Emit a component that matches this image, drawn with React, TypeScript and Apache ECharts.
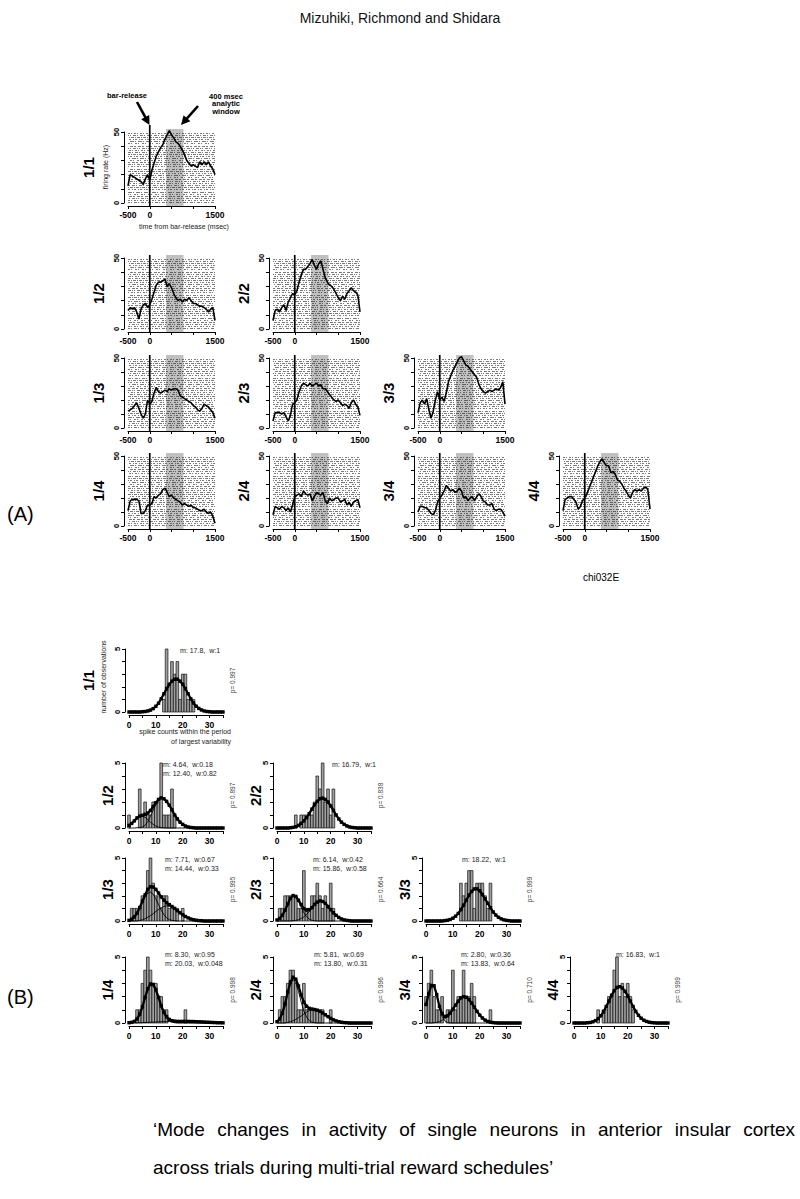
import React, { useEffect, useRef } from 'react';
import * as echarts from 'echarts';

const FONT = '"Liberation Sans", Arial, Helvetica, sans-serif';

// ---------- DATA ----------
// (A) time from bar-release (ms), one sample every 50 ms
const TIME = [-500, -450, -400, -350, -300, -250, -200, -150, -100, -50, 0, 50, 100, 150, 200, 250, 300, 350, 400, 450, 500, 550, 600, 650, 700, 750, 800, 850, 900, 950, 1000, 1050, 1100, 1150, 1200, 1250, 1300, 1350, 1400, 1450, 1500];
const WINDOW_MS = [375, 775];
const A_X_TICK_LABELS = [-500, 0, 1500];
const A_Y_TICK_LABELS = [0, 50];

// firing rate (Hz)
const RATE_1_1 = [12, 20, 19, 18, 17, 16, 15, 13, 17, 20, 16, 23, 28, 33, 36, 39, 41, 45, 48, 51, 48, 46, 43, 42, 40, 37, 34, 30, 28, 26, 27, 26, 25, 29, 27, 29, 27, 29, 26, 24, 20];
const RATE_1_2 = [13, 15, 14, 15, 12, 7, 14, 17, 18, 15, 17, 21, 26, 31, 33, 33, 34, 35, 30, 32, 29, 25, 22, 20, 21, 19, 21, 20, 22, 20, 18, 18, 17, 16, 16, 15, 14, 12, 14, 15, 6];
const RATE_2_2 = [6, 13, 14, 12, 15, 17, 13, 19, 22, 25, 24, 27, 33, 38, 42, 42, 44, 46, 49, 45, 42, 46, 48, 42, 36, 33, 31, 30, 28, 25, 22, 20, 23, 21, 25, 27, 29, 27, 26, 24, 12];
const RATE_1_3 = [12, 13, 14, 16, 18, 14, 10, 7, 10, 20, 17, 19, 25, 29, 26, 25, 26, 27, 26, 28, 27, 28, 28, 27, 23, 22, 21, 20, 19, 18, 16, 15, 13, 12, 14, 17, 16, 15, 13, 11, 7];
const RATE_2_3 = [5, 11, 11, 11, 10, 11, 8, 5, 9, 17, 18, 20, 26, 30, 32, 31, 30, 32, 30, 31, 32, 30, 31, 28, 28, 26, 24, 22, 20, 19, 20, 18, 16, 17, 16, 14, 18, 20, 17, 15, 9];
const RATE_3_3 = [11, 18, 20, 17, 21, 13, 7, 12, 20, 26, 20, 22, 19, 25, 33, 37, 41, 44, 47, 50, 51, 48, 45, 44, 42, 40, 38, 36, 31, 28, 26, 25, 26, 27, 26, 27, 28, 27, 29, 33, 17];
const RATE_1_4 = [11, 18, 19, 19, 19, 18, 9, 9, 11, 15, 15, 16, 21, 20, 22, 23, 26, 27, 24, 21, 22, 20, 19, 18, 17, 15, 16, 15, 14, 15, 13, 13, 12, 11, 11, 12, 10, 9, 10, 7, 2];
const RATE_2_4 = [8, 14, 13, 12, 14, 13, 11, 13, 10, 15, 21, 22, 23, 21, 25, 23, 22, 23, 18, 21, 24, 23, 22, 24, 18, 16, 20, 18, 19, 20, 20, 17, 18, 19, 15, 17, 14, 17, 18, 19, 13];
const RATE_3_4 = [10, 14, 14, 13, 13, 11, 9, 8, 11, 17, 20, 22, 25, 29, 27, 25, 26, 24, 25, 27, 25, 20, 21, 18, 20, 21, 18, 21, 23, 21, 18, 17, 15, 15, 16, 12, 11, 12, 12, 10, 7];
const RATE_4_4 = [11, 19, 20, 21, 21, 19, 17, 12, 14, 18, 20, 23, 27, 31, 35, 39, 43, 46, 48, 45, 43, 43, 38, 39, 37, 33, 32, 30, 27, 25, 22, 20, 24, 26, 25, 26, 25, 27, 28, 26, 12];

// (B) spike counts 0..35
const BINS = [0, 1, 2, 3, 4, 5, 6, 7, 8, 9, 10, 11, 12, 13, 14, 15, 16, 17, 18, 19, 20, 21, 22, 23, 24, 25, 26, 27, 28, 29, 30, 31, 32, 33, 34, 35];
const B_X_TICK_LABELS = [0, 10, 20, 30];
const B_Y_TICK_LABELS = [0, 5];

const COUNT_1_1 = [0, 0, 0, 0, 0, 0, 0, 0, 0, 0, 0, 0, 0, 1, 5, 2, 4, 3, 4, 1, 3, 3, 1, 1, 1, 0, 0, 0, 0, 0, 0, 0, 0, 0, 0, 0];
const COUNT_1_2 = [1, 0, 0, 0, 3, 1, 2, 1, 1, 2, 2, 2, 5, 1, 1, 1, 3, 1, 0, 0, 0, 0, 0, 0, 0, 0, 0, 0, 0, 0, 0, 0, 0, 0, 0, 0];
const COUNT_2_2 = [0, 0, 0, 0, 0, 0, 0, 1, 0, 1, 1, 1, 1, 1, 2, 4, 3, 5, 2, 3, 1, 3, 0, 0, 0, 0, 0, 0, 0, 0, 0, 0, 0, 0, 0, 0];
const COUNT_1_3 = [0, 1, 1, 1, 1, 2, 2, 4, 5, 3, 2, 2, 1, 2, 2, 1, 1, 1, 1, 0, 1, 0, 0, 0, 0, 0, 0, 0, 0, 0, 0, 0, 0, 0, 0, 0];
const COUNT_2_3 = [0, 1, 1, 2, 2, 2, 2, 2, 1, 1, 4, 1, 1, 2, 2, 3, 2, 1, 2, 1, 3, 1, 0, 0, 0, 0, 0, 0, 0, 0, 0, 0, 0, 0, 0, 0];
const COUNT_3_3 = [0, 0, 0, 0, 0, 0, 0, 0, 0, 0, 0, 0, 0, 3, 2, 3, 4, 4, 1, 3, 3, 3, 2, 1, 3, 0, 0, 0, 0, 0, 0, 0, 0, 0, 0, 0];
const COUNT_1_4 = [0, 0, 0, 1, 1, 3, 4, 5, 4, 3, 3, 2, 2, 1, 1, 0, 0, 0, 0, 0, 0, 1, 0, 0, 0, 0, 0, 0, 0, 0, 0, 0, 0, 0, 0, 0];
const COUNT_2_4 = [0, 1, 2, 2, 3, 4, 4, 3, 1, 1, 3, 1, 1, 1, 1, 1, 1, 1, 0, 0, 1, 0, 0, 0, 0, 0, 0, 0, 0, 0, 0, 0, 0, 0, 0, 0];
const COUNT_3_4 = [2, 3, 4, 2, 1, 1, 2, 0, 1, 1, 4, 1, 2, 2, 4, 2, 2, 3, 2, 0, 0, 0, 0, 0, 1, 0, 0, 0, 0, 0, 0, 0, 0, 0, 0, 0];
const COUNT_4_4 = [0, 0, 0, 0, 0, 0, 0, 0, 0, 1, 0, 1, 1, 2, 2, 4, 5, 2, 3, 2, 3, 2, 1, 0, 0, 0, 0, 0, 0, 0, 0, 0, 0, 0, 0, 0];

// fitted mixture (thick) and its components (thin)
const FIT_1_1 = [0, 0, 0, 0, 0, 0.02, 0.04, 0.08, 0.15, 0.27, 0.45, 0.7, 1.05, 1.45, 1.85, 2.2, 2.45, 2.6, 2.6, 2.45, 2.2, 1.85, 1.45, 1.05, 0.72, 0.46, 0.28, 0.16, 0.08, 0.04, 0.02, 0, 0, 0, 0, 0];
const FIT_1_2 = [0.2, 0.35, 0.55, 0.78, 0.92, 0.98, 1.05, 1.15, 1.35, 1.65, 1.95, 2.2, 2.32, 2.25, 2.05, 1.75, 1.4, 1.0, 0.7, 0.45, 0.28, 0.15, 0.08, 0.04, 0.02, 0, 0, 0, 0, 0, 0, 0, 0, 0, 0, 0];
const FIT_1_2_A = [0.2, 0.35, 0.55, 0.75, 0.88, 0.9, 0.82, 0.65, 0.45, 0.28, 0.15, 0.07, 0.03, 0.01, 0, 0, 0, 0, 0, 0, 0, 0, 0, 0, 0, 0, 0, 0, 0, 0, 0, 0, 0, 0, 0, 0];
const FIT_1_2_B = [0, 0, 0, 0.02, 0.04, 0.08, 0.2, 0.5, 0.9, 1.37, 1.8, 2.13, 2.29, 2.24, 2.05, 1.75, 1.4, 1.0, 0.7, 0.45, 0.28, 0.15, 0.08, 0.04, 0.02, 0, 0, 0, 0, 0, 0, 0, 0, 0, 0, 0];
const FIT_2_2 = [0, 0, 0, 0, 0, 0.02, 0.05, 0.1, 0.2, 0.35, 0.55, 0.8, 1.1, 1.45, 1.8, 2.05, 2.25, 2.3, 2.2, 2.0, 1.7, 1.35, 1.0, 0.7, 0.45, 0.28, 0.16, 0.08, 0.04, 0.02, 0, 0, 0, 0, 0, 0];
const FIT_1_3 = [0.05, 0.14, 0.32, 0.62, 1.07, 1.58, 2.08, 2.52, 2.72, 2.7, 2.51, 2.22, 1.91, 1.65, 1.45, 1.3, 1.15, 1.0, 0.82, 0.65, 0.5, 0.36, 0.25, 0.16, 0.1, 0.06, 0.03, 0.02, 0, 0, 0, 0, 0, 0, 0, 0];
const FIT_1_3_A = [0.05, 0.14, 0.32, 0.62, 1.02, 1.48, 1.9, 2.22, 2.3, 2.12, 1.76, 1.3, 0.86, 0.5, 0.25, 0.12, 0.05, 0.02, 0, 0, 0, 0, 0, 0, 0, 0, 0, 0, 0, 0, 0, 0, 0, 0, 0, 0];
const FIT_1_3_B = [0, 0, 0, 0, 0.05, 0.1, 0.18, 0.3, 0.42, 0.58, 0.75, 0.92, 1.05, 1.15, 1.2, 1.18, 1.1, 0.98, 0.82, 0.65, 0.5, 0.36, 0.25, 0.16, 0.1, 0.06, 0.03, 0.02, 0, 0, 0, 0, 0, 0, 0, 0];
const FIT_2_3 = [0.08, 0.2, 0.45, 0.85, 1.35, 1.8, 2.02, 1.95, 1.65, 1.3, 0.98, 0.87, 0.9, 1.06, 1.32, 1.5, 1.6, 1.55, 1.4, 1.15, 0.9, 0.65, 0.45, 0.28, 0.16, 0.09, 0.05, 0.02, 0, 0, 0, 0, 0, 0, 0, 0];
const FIT_2_3_A = [0.08, 0.2, 0.45, 0.85, 1.35, 1.8, 2.0, 1.9, 1.55, 1.1, 0.65, 0.35, 0.15, 0.06, 0.02, 0, 0, 0, 0, 0, 0, 0, 0, 0, 0, 0, 0, 0, 0, 0, 0, 0, 0, 0, 0, 0];
const FIT_2_3_B = [0, 0, 0, 0, 0, 0, 0.02, 0.05, 0.1, 0.2, 0.33, 0.52, 0.75, 1.0, 1.3, 1.5, 1.6, 1.55, 1.4, 1.15, 0.9, 0.65, 0.45, 0.28, 0.16, 0.09, 0.05, 0.02, 0, 0, 0, 0, 0, 0, 0, 0];
const FIT_3_3 = [0, 0, 0, 0, 0, 0, 0, 0.03, 0.06, 0.12, 0.22, 0.38, 0.6, 0.9, 1.25, 1.65, 2.05, 2.35, 2.55, 2.55, 2.4, 2.1, 1.75, 1.4, 1.05, 0.72, 0.47, 0.29, 0.17, 0.09, 0.05, 0.02, 0, 0, 0, 0];
const FIT_1_4 = [0.02, 0.05, 0.12, 0.31, 0.67, 1.23, 1.94, 2.6, 2.96, 2.92, 2.53, 1.94, 1.3, 0.8, 0.47, 0.27, 0.18, 0.14, 0.12, 0.12, 0.12, 0.12, 0.12, 0.11, 0.11, 0.1, 0.09, 0.08, 0.07, 0.06, 0.05, 0.04, 0.03, 0.02, 0.02, 0.01];
const FIT_1_4_A = [0.02, 0.05, 0.12, 0.3, 0.65, 1.2, 1.9, 2.55, 2.9, 2.85, 2.45, 1.85, 1.2, 0.7, 0.36, 0.16, 0.06, 0.02, 0, 0, 0, 0, 0, 0, 0, 0, 0, 0, 0, 0, 0, 0, 0, 0, 0, 0];
const FIT_1_4_B = [0, 0, 0, 0.01, 0.02, 0.03, 0.04, 0.05, 0.06, 0.07, 0.08, 0.09, 0.1, 0.1, 0.11, 0.11, 0.12, 0.12, 0.12, 0.12, 0.12, 0.12, 0.12, 0.11, 0.11, 0.1, 0.09, 0.08, 0.07, 0.06, 0.05, 0.04, 0.03, 0.02, 0.02, 0.01];
const FIT_2_4 = [0.1, 0.3, 0.75, 1.45, 2.35, 3.1, 3.47, 3.32, 2.8, 2.13, 1.58, 1.27, 1.11, 1.06, 1.02, 0.97, 0.88, 0.76, 0.62, 0.48, 0.35, 0.24, 0.16, 0.1, 0.06, 0.03, 0.02, 0, 0, 0, 0, 0, 0, 0, 0, 0];
const FIT_2_4_A = [0.1, 0.3, 0.75, 1.45, 2.3, 3.0, 3.3, 3.05, 2.4, 1.6, 0.9, 0.45, 0.18, 0.06, 0.02, 0, 0, 0, 0, 0, 0, 0, 0, 0, 0, 0, 0, 0, 0, 0, 0, 0, 0, 0, 0, 0];
const FIT_2_4_B = [0, 0, 0, 0, 0.05, 0.1, 0.17, 0.27, 0.4, 0.53, 0.68, 0.82, 0.93, 1.0, 1.0, 0.97, 0.88, 0.76, 0.62, 0.48, 0.35, 0.24, 0.16, 0.1, 0.06, 0.03, 0.02, 0, 0, 0, 0, 0, 0, 0, 0, 0];
const FIT_3_4 = [1.4, 2.2, 2.85, 2.82, 2.15, 1.25, 0.7, 0.49, 0.54, 0.75, 1.05, 1.35, 1.65, 1.9, 2.0, 1.95, 1.78, 1.5, 1.2, 0.88, 0.6, 0.38, 0.22, 0.12, 0.06, 0.03, 0.01, 0, 0, 0, 0, 0, 0, 0, 0, 0];
const FIT_3_4_A = [1.4, 2.2, 2.85, 2.8, 2.1, 1.15, 0.5, 0.16, 0.04, 0, 0, 0, 0, 0, 0, 0, 0, 0, 0, 0, 0, 0, 0, 0, 0, 0, 0, 0, 0, 0, 0, 0, 0, 0, 0, 0];
const FIT_3_4_B = [0, 0, 0, 0.02, 0.05, 0.1, 0.2, 0.33, 0.5, 0.75, 1.05, 1.35, 1.65, 1.9, 2.0, 1.95, 1.78, 1.5, 1.2, 0.88, 0.6, 0.38, 0.22, 0.12, 0.06, 0.03, 0.01, 0, 0, 0, 0, 0, 0, 0, 0, 0];
const FIT_4_4 = [0, 0, 0, 0, 0, 0.02, 0.04, 0.09, 0.18, 0.33, 0.55, 0.85, 1.25, 1.65, 2.1, 2.45, 2.7, 2.75, 2.65, 2.4, 2.05, 1.65, 1.25, 0.88, 0.58, 0.36, 0.21, 0.12, 0.06, 0.03, 0.01, 0, 0, 0, 0, 0];

const FIT_TEXT_1_1 = ['m: 17.8,  w:1'];
const FIT_TEXT_1_2 = ['m: 4.64,  w:0.18', 'm: 12.40,  w:0.82'];
const FIT_TEXT_2_2 = ['m: 16.79,  w:1'];
const FIT_TEXT_1_3 = ['m: 7.71,  w:0.67', 'm: 14.44,  w:0.33'];
const FIT_TEXT_2_3 = ['m: 6.14,  w:0.42', 'm: 15.86,  w:0.58'];
const FIT_TEXT_3_3 = ['m: 18.22,  w:1'];
const FIT_TEXT_1_4 = ['m: 8.30,  w:0.95', 'm: 20.03,  w:0.048'];
const FIT_TEXT_2_4 = ['m: 5.81,  w:0.69', 'm: 13.80,  w:0.31'];
const FIT_TEXT_3_4 = ['m: 2.80,  w:0.36', 'm: 13.83,  w:0.64'];
const FIT_TEXT_4_4 = ['m: 16.83,  w:1'];

const P_VALUES = ['p= 0.997', 'p= 0.897', 'p= 0.838', 'p= 0.995', 'p= 0.664', 'p= 0.999', 'p= 0.998', 'p= 0.996', 'p= 0.710', 'p= 0.999'];
const PANEL_LABELS = ['1/1', '1/2', '2/2', '1/3', '2/3', '3/3', '1/4', '2/4', '3/4', '4/4'];
const CAPTION_1 = '\u2018Mode changes in activity of single neurons in anterior insular cortex';
const CAPTION_2 = 'across trials during multi-trial reward schedules\u2019';

// ---------- LAYOUT / STYLE ----------
const PANEL_POS = [[0, 0], [1, 0], [1, 1], [2, 0], [2, 1], [2, 2], [3, 0], [3, 1], [3, 2], [3, 3]];
const A_COL_LEFT = [128, 273, 418, 563];
const A_W = 87;
const A_ROWS = [[132, 71], [258, 71], [358, 70], [456, 70]];
const B_COL_LEFT = [129, 277, 426, 574];
const B_W = 94;
const B_ROWS = [[649, 63], [763, 65], [858, 63], [957, 66]];
const B_TEXT_DX = [51, 34, 55, 36, 36, 36, 36, 37, 35, 42];
const RASTER_DASH = [[2, 1, 1, 2], [1, 2, 3, 1], [3, 1, 1, 1], [1, 1, 2, 2], [4, 1, 1, 2], [1, 3, 2, 1], [2, 2, 3, 1], [1, 1, 1, 2, 3, 1]];

const A_RATES = [RATE_1_1, RATE_1_2, RATE_2_2, RATE_1_3, RATE_2_3, RATE_3_3, RATE_1_4, RATE_2_4, RATE_3_4, RATE_4_4];
const B_COUNTS = [COUNT_1_1, COUNT_1_2, COUNT_2_2, COUNT_1_3, COUNT_2_3, COUNT_3_3, COUNT_1_4, COUNT_2_4, COUNT_3_4, COUNT_4_4];
const B_FITS = [FIT_1_1, FIT_1_2, FIT_2_2, FIT_1_3, FIT_2_3, FIT_3_3, FIT_1_4, FIT_2_4, FIT_3_4, FIT_4_4];
const B_COMPONENTS = [[], [FIT_1_2_A, FIT_1_2_B], [], [FIT_1_3_A, FIT_1_3_B], [FIT_2_3_A, FIT_2_3_B], [], [FIT_1_4_A, FIT_1_4_B], [FIT_2_4_A, FIT_2_4_B], [FIT_3_4_A, FIT_3_4_B], []];
const B_TEXTS = [FIT_TEXT_1_1, FIT_TEXT_1_2, FIT_TEXT_2_2, FIT_TEXT_1_3, FIT_TEXT_2_3, FIT_TEXT_3_3, FIT_TEXT_1_4, FIT_TEXT_2_4, FIT_TEXT_3_4, FIT_TEXT_4_4];

const txt = (text: string, x: number, y: number, font: string, o: any = {}) => ({
  type: 'text', x, y, rotation: o.rot || 0, silent: true, z: 20,
  style: { text, font, fill: o.fill || '#000', textAlign: o.align || 'center', textVerticalAlign: o.va || 'middle' },
});

// justified caption line: words spread between x0 and x1
const justified = (line: string, x0: number, x1: number, y: number, font: string) => {
  const ctx = document.createElement('canvas').getContext('2d') as CanvasRenderingContext2D;
  ctx.font = font;
  const words = line.split(' ');
  const widths = words.map((w) => ctx.measureText(w).width);
  const total = widths.reduce((a, b) => a + b, 0);
  const gap = (x1 - x0 - total) / (words.length - 1);
  let x = x0;
  return words.map((w, k) => {
    const el = txt(w, x, y, font, { align: 'left' });
    x += widths[k] + gap;
    return el;
  });
};

const arrow = (x1: number, y1: number, x2: number, y2: number) => {
  const dx = x2 - x1, dy = y2 - y1, L = Math.hypot(dx, dy);
  const ux = dx / L, uy = dy / L, hl = 9, hw = 4.6;
  const bx = x2 - ux * hl, by = y2 - uy * hl;
  return [
    { type: 'line', silent: true, z: 20, shape: { x1, y1, x2: bx + ux, y2: by + uy }, style: { stroke: '#000', lineWidth: 2.6 } },
    { type: 'polygon', silent: true, z: 20, shape: { points: [[x2, y2], [bx - uy * hw, by + ux * hw], [bx + uy * hw, by - ux * hw]] }, style: { fill: '#000' } },
  ];
};

const decor = (first: boolean) => (_p: any, api: any) => {
  const tl = api.coord([WINDOW_MS[0], 50]);
  const br = api.coord([WINDOW_MS[1], 0]);
  const left = api.coord([TIME[0], 0])[0];
  const right = api.coord([TIME[TIME.length - 1], 0])[0];
  const zx = api.coord([0, 0])[0];
  const top = tl[1], bottom = br[1];
  const children: any[] = [
    { type: 'rect', shape: { x: tl[0], y: top - 3, width: br[0] - tl[0], height: bottom - top + 6 }, style: { fill: '#c0c0c0' } },
  ];
  const n = 34;
  const step = (bottom - top - 2) / (n - 1);
  for (let i = 0; i < n; i++) {
    const y = Math.round(top + 1 + i * step) + 0.5;
    children.push({
      type: 'line', shape: { x1: left, y1: y, x2: right, y2: y },
      style: { stroke: '#1a1a1a', lineWidth: 1, opacity: 0.58, lineDash: RASTER_DASH[i % RASTER_DASH.length], lineDashOffset: (i * 5) % 7 },
    });
  }
  children.push({ type: 'line', shape: { x1: zx, y1: top - (first ? 7 : 3), x2: zx, y2: bottom + 4 }, style: { stroke: '#000', lineWidth: 1.7 } });
  return { type: 'group', children };
};

const barRender = (_p: any, api: any) => {
  const k = api.value(0), c = api.value(1);
  const a = api.coord([k - 0.5, c]);
  const b = api.coord([k + 0.5, 0]);
  return { type: 'rect', shape: { x: a[0], y: a[1], width: b[0] - a[0], height: b[1] - a[1] }, style: { fill: '#a0a0a0', stroke: '#111', lineWidth: 0.7 } };
};

const axisBase = {
  axisLine: { show: true, onZero: false, lineStyle: { color: '#000', width: 1 } },
  axisTick: { show: true, length: 3, lineStyle: { color: '#000', width: 1 } },
  splitLine: { show: false },
};
const tickFont = { fontSize: 8.5, fontWeight: 'bold', color: '#000', fontFamily: FONT };
const yTickFont = { fontSize: 7.5, fontWeight: 'bold', color: '#000', fontFamily: FONT };

function buildOption() {
  const grid: any[] = [], xAxis: any[] = [], yAxis: any[] = [], series: any[] = [], graphic: any[] = [];

  // ---- (A) rasters ----
  A_RATES.forEach((rate, i) => {
    const [r, c] = PANEL_POS[i];
    const [top, h] = A_ROWS[r];
    grid.push({ left: A_COL_LEFT[c], top, width: A_W, height: h });
    xAxis.push({
      ...axisBase, gridIndex: i, type: 'value', min: -500, max: 1500, interval: 500, offset: 3,
      axisLabel: { ...tickFont, margin: 4, showMinLabel: true, showMaxLabel: true, formatter: (v: number) => (A_X_TICK_LABELS.includes(v) ? String(v) : '') },
    });
    yAxis.push({
      ...axisBase, gridIndex: i, type: 'value', min: 0, max: 50, interval: 10, offset: 4,
      axisLabel: { ...yTickFont, rotate: 90, margin: 4, showMinLabel: true, showMaxLabel: true, formatter: (v: number) => (A_Y_TICK_LABELS.includes(v) ? String(v) : '') },
    });
    series.push({ type: 'custom', xAxisIndex: i, yAxisIndex: i, data: [[0, 0]], encode: { x: 0, y: 1 }, clip: false, silent: true, z: 1, renderItem: decor(i === 0) });
    series.push({ type: 'line', xAxisIndex: i, yAxisIndex: i, data: TIME.map((t, k) => [t, rate[k]]), symbol: 'none', clip: false, silent: true, z: 3, lineStyle: { color: '#000', width: 1.6 } });
    graphic.push(txt(PANEL_LABELS[i], i === 0 ? 88 : A_COL_LEFT[c] - 30, top + h / 2, `bold 15px ${FONT}`, { rot: Math.PI / 2 }));
  });

  // ---- (B) histograms ----
  B_COUNTS.forEach((counts, j) => {
    const i = j + 10;
    const [r, c] = PANEL_POS[j];
    const [top, h] = B_ROWS[r];
    const x0 = B_COL_LEFT[c];
    grid.push({ left: x0, top, width: B_W, height: h });
    xAxis.push({
      ...axisBase, gridIndex: i, type: 'value', min: 0, max: 35, interval: 5, offset: 3,
      axisLabel: { ...tickFont, margin: 5, showMinLabel: true, showMaxLabel: true, formatter: (v: number) => (B_X_TICK_LABELS.includes(v) ? String(v) : '') },
    });
    yAxis.push({
      ...axisBase, gridIndex: i, type: 'value', min: 0, max: 5, interval: 1, offset: 4,
      axisLabel: { ...yTickFont, rotate: 90, margin: 4, showMinLabel: true, showMaxLabel: true, formatter: (v: number) => (B_Y_TICK_LABELS.includes(v) ? String(v) : '') },
    });
    series.push({
      type: 'custom', xAxisIndex: i, yAxisIndex: i, clip: false, silent: true, z: 1, encode: { x: 0, y: 1 },
      data: BINS.map((b, k) => [b, counts[k]]).filter((d) => d[1] > 0), renderItem: barRender,
    });
    B_COMPONENTS[j].forEach((comp) => {
      series.push({ type: 'line', xAxisIndex: i, yAxisIndex: i, data: BINS.map((b, k) => [b, comp[k]]), symbol: 'none', clip: false, silent: true, z: 2, lineStyle: { color: '#000', width: 0.9 } });
    });
    series.push({
      type: 'line', xAxisIndex: i, yAxisIndex: i, data: BINS.map((b, k) => [b, B_FITS[j][k]]), clip: false, silent: true, z: 3,
      symbol: 'rect', symbolSize: 3.4, showSymbol: true, itemStyle: { color: '#000' }, lineStyle: { color: '#000', width: 2.3 },
    });
    graphic.push(txt(PANEL_LABELS[j], j === 0 ? 88 : x0 - 22, top + h / 2, `bold 15px ${FONT}`, { rot: Math.PI / 2 }));
    B_TEXTS[j].forEach((s, k) => {
      graphic.push(txt(s, x0 + B_TEXT_DX[j], top + (r === 3 ? -3 : 1) + k * 9.5, `7px ${FONT}`, { align: 'left', fill: '#222' }));
    });
    graphic.push(txt(P_VALUES[j], x0 + 103, top + h / 2, `6.5px ${FONT}`, { rot: Math.PI / 2, fill: '#444' }));
  });

  // ---- annotations ----
  const capFont = `19px ${FONT}`;
  graphic.push(txt('Mizuhiki, Richmond and Shidara', 400, 18, `14px ${FONT}`, { fill: '#111' }));
  graphic.push(txt('(A)', 7, 514, `20px ${FONT}`, { align: 'left' }));
  graphic.push(txt('(B)', 7, 997, `20px ${FONT}`, { align: 'left' }));
  graphic.push(txt('chi032E', 601, 577, `10px ${FONT}`));
  graphic.push(txt('bar-release', 127, 95, `bold 7.5px ${FONT}`));
  graphic.push(txt('400 msec', 226, 96, `bold 7.5px ${FONT}`));
  graphic.push(txt('analytic', 226, 103.5, `bold 7.5px ${FONT}`));
  graphic.push(txt('window', 226, 111, `bold 7.5px ${FONT}`));
  graphic.push(...arrow(137, 102, 149.5, 125));
  graphic.push(...arrow(198, 106, 181, 125));
  graphic.push(txt('firing rate (Hz)', 105, 167, `7px ${FONT}`, { rot: Math.PI / 2, fill: '#222' }));
  graphic.push(txt('time from bar-release (msec)', 184, 226, `7px ${FONT}`, { fill: '#222' }));
  graphic.push(txt('number of observations', 103, 677, `7px ${FONT}`, { rot: Math.PI / 2, fill: '#222' }));
  graphic.push(txt('spike counts within the period', 231, 731, `7px ${FONT}`, { align: 'right', fill: '#222' }));
  graphic.push(txt('of largest variability', 231, 741, `7px ${FONT}`, { align: 'right', fill: '#222' }));
  graphic.push(...justified(CAPTION_1, 153, 795, 1129, capFont));
  graphic.push(txt(CAPTION_2, 153, 1167, capFont, { align: 'left' }));

  return { animation: false, backgroundColor: '#fff', grid, xAxis, yAxis, series, graphic };
}

export default function App() {
  const ref = useRef<HTMLDivElement>(null);
  useEffect(() => {
    if (!ref.current) return;
    const chart = echarts.init(ref.current, null, { renderer: 'svg' });
    chart.setOption(buildOption() as any);
    return () => chart.dispose();
  }, []);
  return <div ref={ref} style={{ position: 'absolute', left: 0, top: 0, width: 800, height: 1199, background: '#fff' }} />;
}
